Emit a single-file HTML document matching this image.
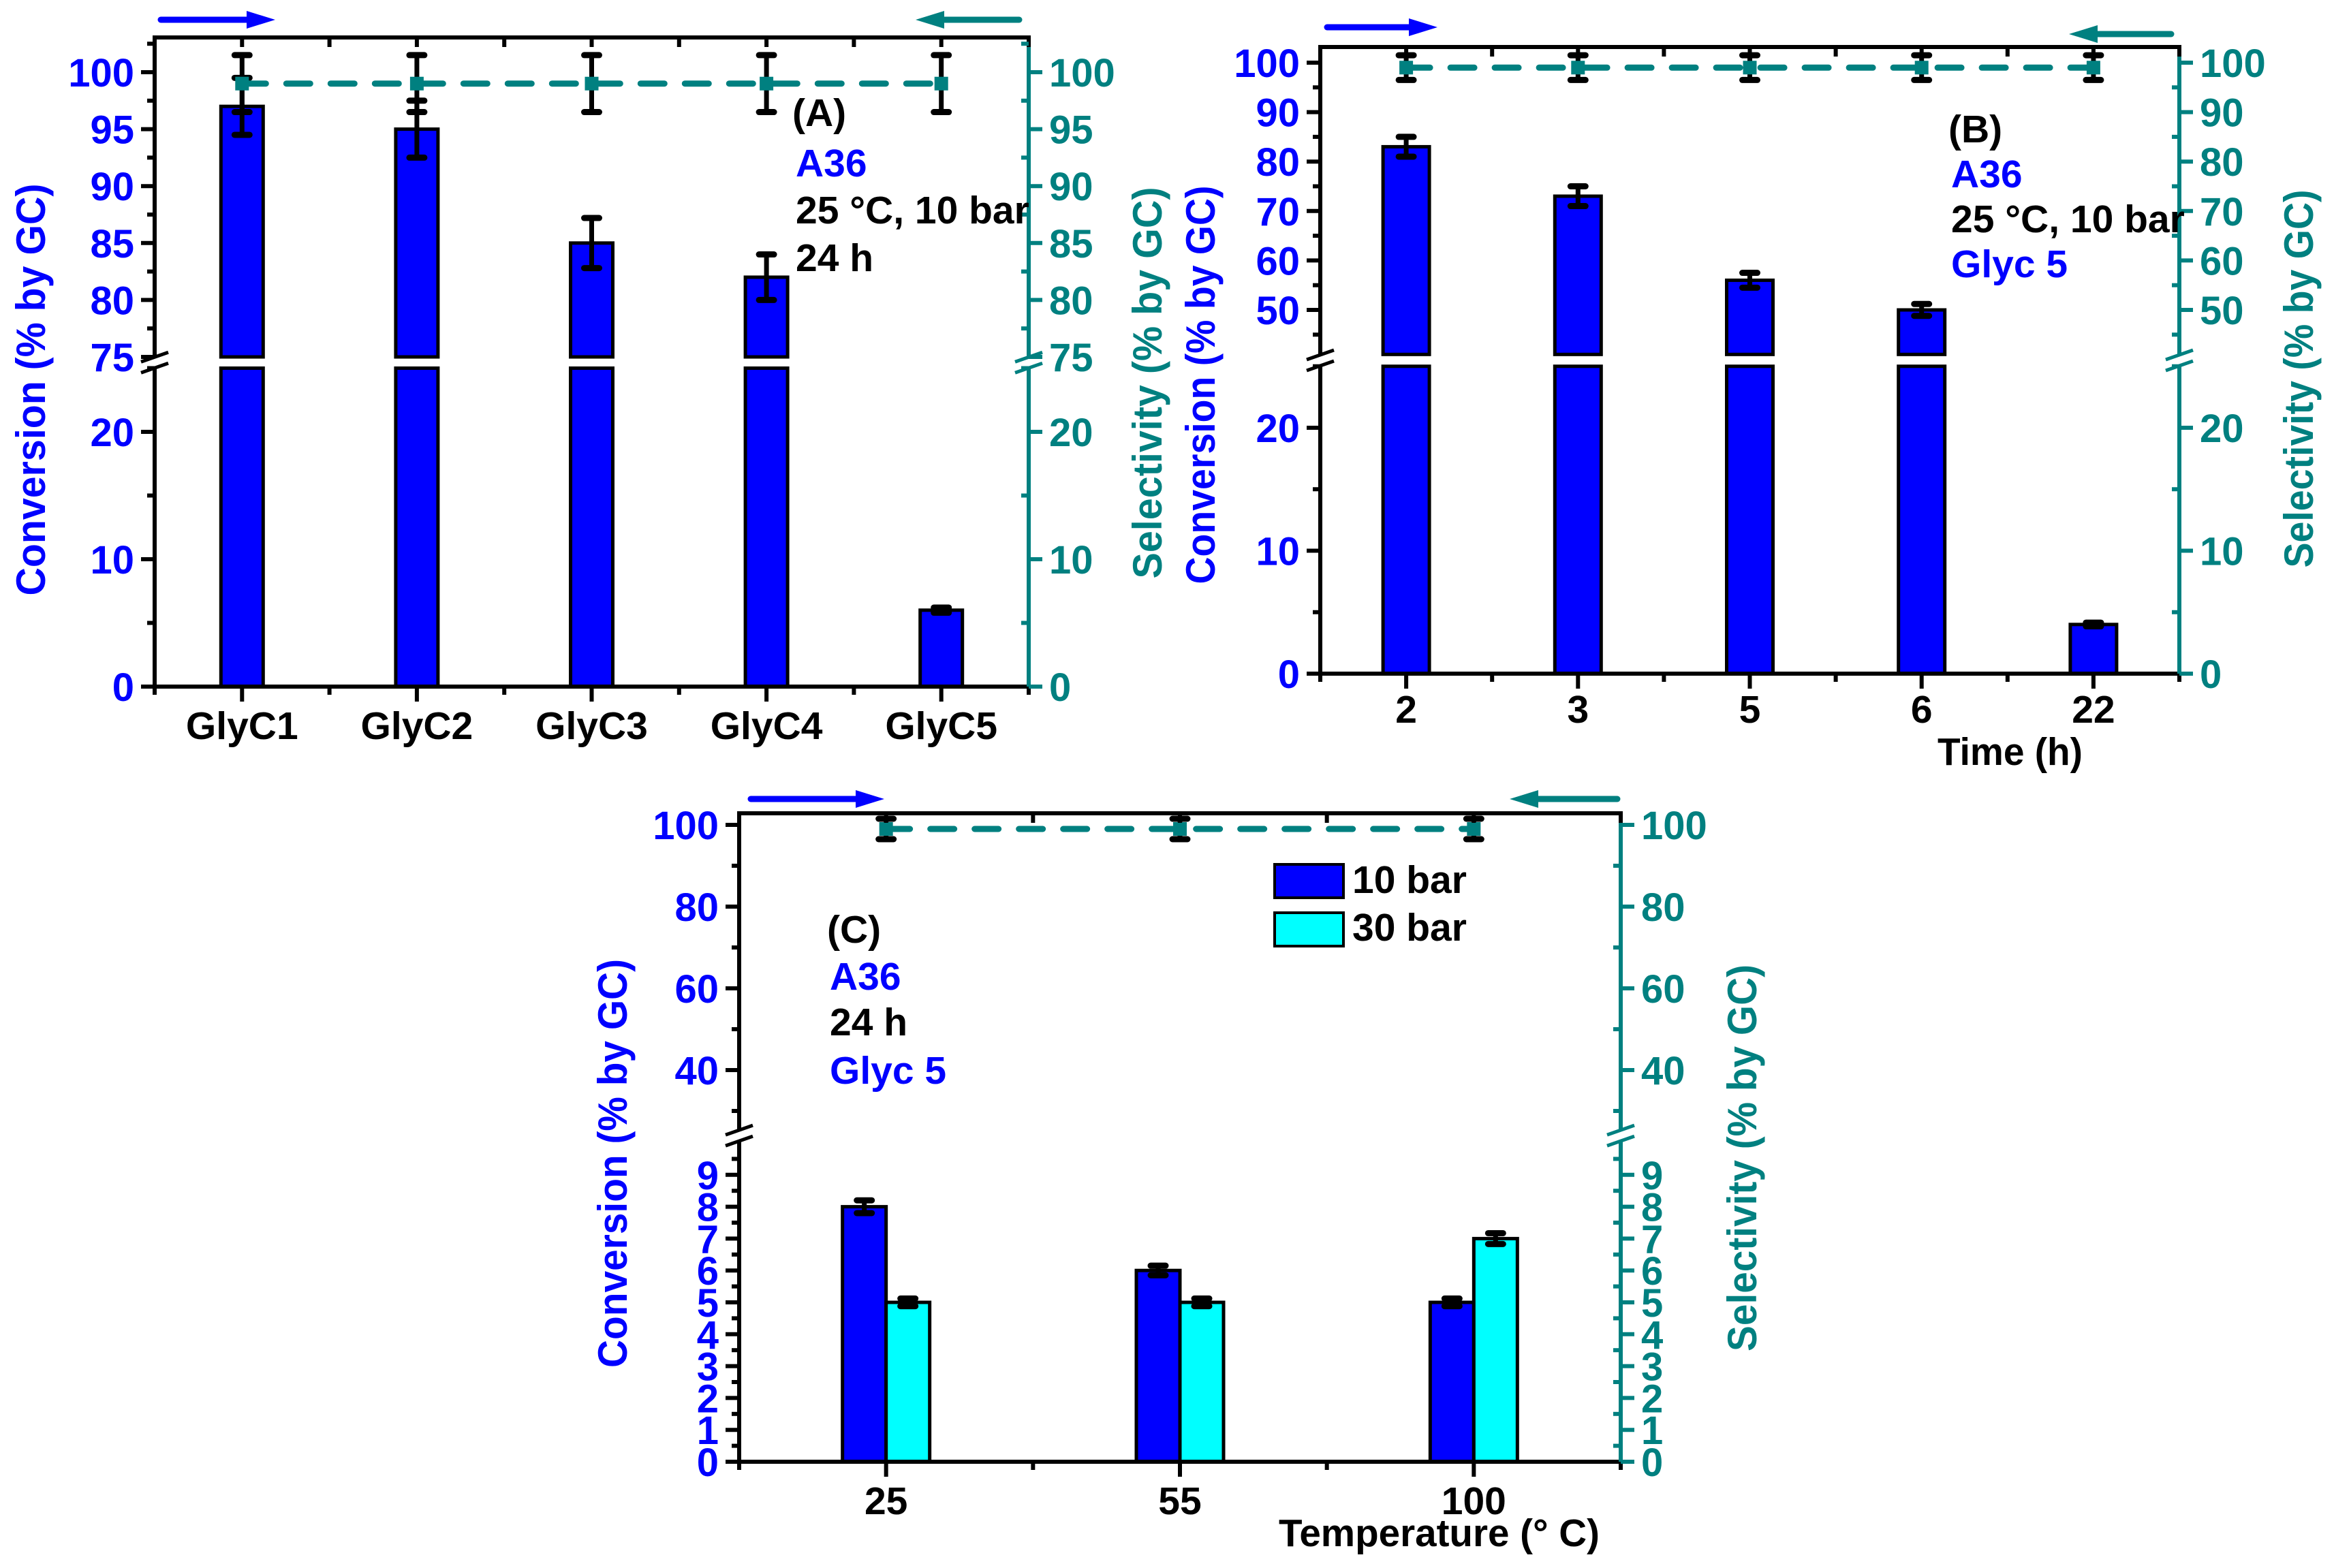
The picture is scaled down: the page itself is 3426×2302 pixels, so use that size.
<!DOCTYPE html>
<html><head><meta charset="utf-8"><style>html,body{margin:0;padding:0;background:#fff}svg{display:block}</style></head>
<body>
<svg id="fig" width="3426" height="2302" viewBox="0 0 3426 2302" xmlns="http://www.w3.org/2000/svg" font-family="'Liberation Sans', Arial, sans-serif" font-weight="bold">
<g id="root"></g>
</svg>
<script>
// ---- Panel A data ----
const catsA = ["GlyC1","GlyC2","GlyC3","GlyC4","GlyC5"];
const convA = [97,95,85,82,6];
const convErrA = [2.5,2.5,2.2,2,0.2];
const selA = [99,99,99,99,99];
const selErrA = [2.5,2.5,2.5,2.5,2.5];
const ticksLowerA = [0,10,20];
const ticksUpperA = [75,80,85,90,95,100];
// ---- Panel B data ----
const catsB = ["2","3","5","6","22"];
const convB = [83,73,56,50,4];
const convErrB = [2,2,1.5,1.2,0.15];
const selB = [99,99,99,99,99];
const selErrB = [2.5,2.5,2.5,2.5,2.5];
const ticksLowerB = [0,10,20];
const ticksUpperB = [50,60,70,80,90,100];
// ---- Panel C data ----
const catsC = ["25","55","100"];
const conv10C = [8,6,5];
const conv10ErrC = [0.2,0.15,0.12];
const conv30C = [5,5,7];
const conv30ErrC = [0.12,0.12,0.17];
const selC = [99,99,99];
const selErrC = [2.5,2.5,2.5];
const ticksLowerC = [0,1,2,3,4,5,6,7,8,9];
const ticksUpperC = [40,60,80,100];

const NS="http://www.w3.org/2000/svg";
const root=document.getElementById('root');
const TEAL="#008080", BLUE="#0000ff";
function mk(tag,attrs,parent){const e=document.createElementNS(NS,tag);for(const k in attrs)e.setAttribute(k,attrs[k]);(parent||root).appendChild(e);return e;}
function txt(s,attrs,parent){const e=mk('text',attrs,parent);e.textContent=s;return e;}

function panel(P){
  const g=mk('g',{});
  
  
  // scales
  const yL=v=>P.B-(v-0)*P.kL;
  const yU=v=>P.y100+(100-v)*P.kU;
  const yLTop=yL(P.lowerMax), yUBot=yU(P.upperMin);
  const y=v=>v<=P.lowerMax?yL(v):yU(v);
  const n=P.cats.length, step=(P.R-P.L)/n;
  const xc=i=>P.L+step*(i+0.5);
  // bars
  P.series.forEach((s,si)=>{
    s.vals.forEach((v,i)=>{
      const cx=xc(i)+s.off;
      const x0=cx-P.bw/2;
      const topL=yL(Math.min(v,P.lowerMax));
      const r=mk('rect',{x:x0,y:topL,width:P.bw,height:P.B-topL,fill:s.color,stroke:'#000','stroke-width':5},g);
      
      
      if(v>P.lowerMax){
        const tu=yU(v);
        const r2=mk('rect',{x:x0,y:tu,width:P.bw,height:yUBot-tu,fill:s.color,stroke:'#000','stroke-width':5},g);
        
        
        // white gap
        mk('rect',{x:x0-4,y:yUBot+4,width:P.bw+8,height:(yLTop-yUBot)-8,fill:'#fff'},g);
      }
    });
  });
  // conversion error bars
  P.series.forEach(s=>{
    s.vals.forEach((v,i)=>{
      const cx=xc(i)+s.off, e=s.err[i];
      const a=y(v+e), b=y(v-e);
      const eb=mk('g',{stroke:'#000','stroke-width':7,'stroke-linecap':'round'},g);
      
      
      mk('line',{x1:cx,y1:a,x2:cx,y2:b},eb);
      mk('line',{x1:cx-11,y1:a,x2:cx+11,y2:a,'stroke-width':9},eb);
      mk('line',{x1:cx-11,y1:b,x2:cx+11,y2:b,'stroke-width':9},eb);
    });
  });
  // selectivity dashed line
  const pts=P.sel.map((v,i)=>xc(i)+','+yU(v)).join(' ');
  const pl=mk('polyline',{points:pts,fill:'none',stroke:TEAL,'stroke-width':9,'stroke-dasharray':'35 30','stroke-linecap':'round'},g);
  
  
  P.sel.forEach((v,i)=>{
    const cx=xc(i), e=P.selErr[i], a=yU(v+e), b=yU(v-e);
    const eb=mk('g',{stroke:'#000','stroke-width':7,'stroke-linecap':'round'},g);
    
    
    mk('line',{x1:cx,y1:a,x2:cx,y2:b},eb);
    mk('line',{x1:cx-11,y1:a,x2:cx+11,y2:a,'stroke-width':9},eb);
    mk('line',{x1:cx-11,y1:b,x2:cx+11,y2:b,'stroke-width':9},eb);
    const m=mk('rect',{x:cx-10,y:yU(v)-10,width:20,height:20,fill:TEAL},g);
    
    
  });
  // axes
  const ax=mk('g',{'stroke-width':6},g);
  
  
  mk('line',{x1:P.L-3,y1:P.T,x2:P.R+3,y2:P.T,stroke:'#000'},ax);
  mk('line',{x1:P.L-3,y1:P.B,x2:P.R+3,y2:P.B,stroke:'#000'},ax);
  const gapMid=(yUBot+yLTop)/2;
  // left axis segments
  mk('line',{x1:P.L,y1:P.T,x2:P.L,y2:gapMid-9,stroke:'#000'},ax);
  mk('line',{x1:P.L,y1:gapMid+9,x2:P.L,y2:P.B,stroke:'#000'},ax);
  mk('line',{x1:P.R,y1:P.T,x2:P.R,y2:gapMid-9,stroke:TEAL},ax);
  mk('line',{x1:P.R,y1:gapMid+9,x2:P.R,y2:P.B,stroke:TEAL},ax);
  [[P.L,'#000'],[P.R,TEAL]].forEach(([x,c])=>{
    mk('line',{x1:x-20,y1:gapMid-1,x2:x+20,y2:gapMid-15,stroke:c,'stroke-width':5},ax);
    mk('line',{x1:x-20,y1:gapMid+15,x2:x+20,y2:gapMid+1,stroke:c,'stroke-width':5},ax);
  });
  // x ticks
  for(let i=0;i<=2*n;i++){
    const x=P.L+step*i/2, major=i%2==1;
    mk('line',{x1:x,y1:P.B,x2:x,y2:P.B+(major?22:12),stroke:'#000'},ax);
    mk('line',{x1:x,y1:P.T,x2:x,y2:P.T+(major?14:14),stroke:'#000'},ax);
  }
  P.cats.forEach((c,i)=>{
    const t=txt(c,{x:xc(i),y:P.xlabY,'font-size':57,'text-anchor':'middle',fill:'#000'},g);
    
    
  });
  // y ticks
  function yt(v,scale,major,label){
    const yy=scale(v);
    mk('line',{x1:P.L-(major?20:11),y1:yy,x2:P.L,y2:yy,stroke:'#000'},ax);
    mk('line',{x1:P.R,y1:yy,x2:P.R+(major?20:0),y2:yy,stroke:TEAL},ax);
    if(!major) mk('line',{x1:P.R-11,y1:yy,x2:P.R,y2:yy,stroke:TEAL},ax);
    if(label){
      const t1=txt(String(v),{x:P.L-30,y:yy+21,'font-size':P.tfs,'text-anchor':'end',fill:BLUE},g);
      
      
      const t2=txt(String(v),{x:P.R+30,y:yy+21,'font-size':P.tfs,fill:TEAL},g);
      
      
    }
  }
  P.tL.forEach(v=>yt(v,yL,true,true));
  P.tU.forEach(v=>yt(v,yU,true,true));
  P.mL.forEach(v=>yt(v,yL,false,false));
  P.mU.forEach(v=>yt(v,yU,false,false));
  // titles
  const tl=txt('Conversion (% by GC)',{x:0,y:0,'font-size':60,'text-anchor':'middle',fill:BLUE,textLength:P.titleLen,lengthAdjust:'spacingAndGlyphs',transform:`translate(${P.ltx},${P.tcy}) rotate(-90)`},g);
  
  
  const tr=txt('Selectivity (% by GC)',{x:0,y:0,'font-size':60,'text-anchor':'middle',fill:TEAL,textLength:P.titleLen2,lengthAdjust:'spacingAndGlyphs',transform:`translate(${P.rtx},${P.tcy2}) rotate(-90)`},g);
  
  
  // arrows
  const a1=mk('g',{},g);
  
  
  mk('line',{x1:P.ba[0],y1:P.ba[2],x2:P.ba[1]-30,y2:P.ba[2],stroke:BLUE,'stroke-width':9,'stroke-linecap':'round'},a1);
  mk('polygon',{points:`${P.ba[1]},${P.ba[2]} ${P.ba[1]-42},${P.ba[2]-13} ${P.ba[1]-42},${P.ba[2]+13}`,fill:BLUE},a1);
  const a2=mk('g',{},g);
  
  
  mk('line',{x1:P.ta[0]+30,y1:P.ta[2],x2:P.ta[1],y2:P.ta[2],stroke:TEAL,'stroke-width':9,'stroke-linecap':'round'},a2);
  mk('polygon',{points:`${P.ta[0]},${P.ta[2]} ${P.ta[0]+42},${P.ta[2]-13} ${P.ta[0]+42},${P.ta[2]+13}`,fill:TEAL},a2);
  // annotations
  P.notes.forEach(nt=>{
    const t=txt(nt[0],{x:nt[1],y:nt[2],'font-size':57,fill:nt[3]},g);
    
    
  });
  return g;
}

panel({name:'panel-a',L:227,R:1510,T:55,B:1008,kL:18.7,lowerMax:25,y100:106,kU:16.72,upperMin:75,
  cats:catsA,bw:62,series:[{key:'conversion',vals:convA,err:convErrA,color:BLUE,off:0}],
  sel:selA,selErr:selErrA,tL:ticksLowerA,tU:ticksUpperA,mL:[5,15,25],mU:[77.5,82.5,87.5,92.5,97.5,102.5],tfs:58,
  xlabY:1085,ltx:66,tcy:572,titleLen:605,rtx:1705,tcy2:562,titleLen2:575,
  ba:[236,404,29],ta:[1344,1496,29],
  notes:[['(A)',1163,185,'#000'],['A36',1168,259,BLUE],['25 °C, 10 bar',1168,328,'#000'],['24 h',1168,398,'#000']]});

panel({name:'panel-b',L:1938,R:3199,T:69,B:989,kL:18.05,lowerMax:25,y100:92,kU:7.26,upperMin:41,
  cats:catsB,bw:68,series:[{key:'conversion',vals:convB,err:convErrB,color:BLUE,off:0}],
  sel:selB,selErr:selErrB,tL:ticksLowerB,tU:ticksUpperB,mL:[5,15,25],mU:[45,55,65,75,85,95],tfs:58,
  xlabY:1061,ltx:1783,tcy:565,titleLen:585,rtx:3395,tcy2:556,titleLen2:555,
  ba:[1948,2110,40],ta:[3037,3187,50],
  notes:[['(B)',2860,209,'#000'],['A36',2864,275,BLUE],['25 °C, 10 bar',2864,341,'#000'],['Glyc 5',2864,407,BLUE]]});

panel({name:'panel-c',L:1085,R:2379,T:1194,B:2146,kL:46.8,lowerMax:10.1,y100:1211,kU:6.0,upperMin:25,
  cats:catsC,bw:64,series:[{key:'10-bar',vals:conv10C,err:conv10ErrC,color:BLUE,off:-32},{key:'30-bar',vals:conv30C,err:conv30ErrC,color:'#00ffff',off:32}],
  sel:selC,selErr:selErrC,tL:ticksLowerC,tU:ticksUpperC,mL:[0.5,1.5,2.5,3.5,4.5,5.5,6.5,7.5,8.5,9.5],mU:[30,50,70,90],tfs:58,
  xlabY:2223,ltx:920,tcy:1708,titleLen:600,rtx:2578,tcy2:1700,titleLen2:568,
  ba:[1102,1298,1173],ta:[2216,2374,1173],
  notes:[['(C)',1214,1384,'#000'],['A36',1218,1453,BLUE],['24 h',1218,1520,'#000'],['Glyc 5',1218,1591,BLUE]]});

// x-axis titles
const tt=txt('Time (h)',{x:2844,y:1123,'font-size':57,fill:'#000',textLength:213,lengthAdjust:'spacingAndGlyphs'});


const tc=txt('Temperature (° C)',{x:1877,y:2270,'font-size':57,fill:'#000',textLength:471,lengthAdjust:'spacingAndGlyphs'});


// legend C
const lg=mk('g',{});


const l1=mk('rect',{x:1871,y:1269,width:101,height:49,fill:BLUE,stroke:'#000','stroke-width':4},lg);


const l2=mk('rect',{x:1871,y:1340,width:101,height:49,fill:'#00ffff',stroke:'#000','stroke-width':4},lg);


const lt1=txt('10 bar',{x:1985,y:1311,'font-size':57,fill:'#000'},lg);


const lt2=txt('30 bar',{x:1985,y:1381,'font-size':57,fill:'#000'},lg);


</script>
</body></html>
